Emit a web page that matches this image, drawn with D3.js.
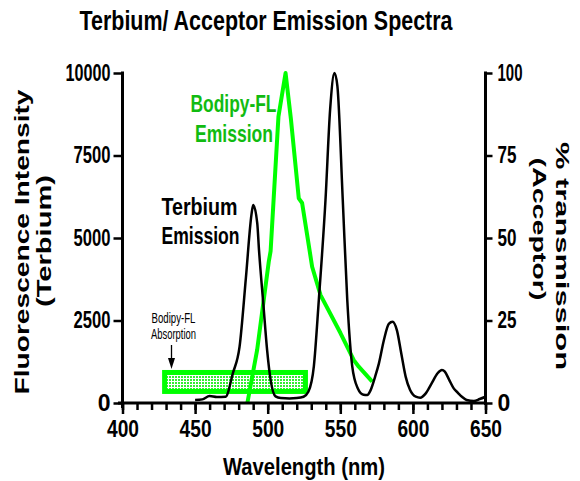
<!DOCTYPE html>
<html><head><meta charset="utf-8">
<script src="https://cdn.jsdelivr.net/npm/d3@7"></script>
<style>body{margin:0;background:#fff}svg{display:block}</style>
</head><body><svg id="c" width="580" height="481"></svg>
<script>
// ---- data ----
const terbiumNm  = [450,455,460,465,471,476,480.6,485,488.8,490,492.8,494,497,499.6,502,505.4,509,515,520,524.7,528,531.8,535.2,539.8,543,546,548,551.7,554.8,558.2,562,566,568.5,571,574,576.6,580,583.4,586,589,592,595,598,602,605,609,613,617,620,622,625,628,631,634,637,642,646,650];
const terbiumVal = [90,110,210,180,190,900,1700,3800,5700,6000,5450,4640,3000,1600,700,200,150,140,150,190,340,1120,3120,6150,8900,10000,9600,6150,3120,1120,450,250,240,400,800,1200,1900,2400,2460,2200,1500,800,400,190,160,300,600,900,1000,950,700,450,310,180,90,60,120,190];
const bodipyNm   = [486,492.7,500.8,502,507.4,512.3,516,521.4,523.7,527,530.6,536.4,550.1,559.3,562.7,572];
const bodipyPct  = [0,16,43,46,86.8,100,86,62,60.6,51.4,41.3,32.7,21.2,13,11,6.5];
const xMajorTicks = [400,450,500,550,600,650];
const xMinorTicks = d3.range(400,651,10);
const yLeftTicks  = [0,2500,5000,7500,10000];
const yRightTicks = [0,25,50,75,100];
const absorptionBand  = [429,526];   // nm
const absorptionLevel = [350,925];   // terbium units

const FONT = "'Liberation Sans', Arial, sans-serif";
const svg = d3.select('#c');

const x  = d3.scaleLinear().domain([400,650]).range([122.5,485.5]);
const yL = d3.scaleLinear().domain([0,10000]).range([403,73]);
const yR = d3.scaleLinear().domain([0,100]).range([403,73]);

// pattern for absorption box
const defs = svg.append('defs');
const pat = defs.append('pattern').attr('id','grid').attr('width',3).attr('height',3)
  .attr('patternUnits','userSpaceOnUse');
pat.append('rect').attr('width',3).attr('height',3).attr('fill','#33ee33');
pat.append('path').attr('d','M0,0.5H3M0.5,0V3').attr('stroke','#ffffff').attr('stroke-width',1);

// title
svg.append('text').attr('x',266).attr('y',30).attr('text-anchor','middle')
  .attr('font-family',FONT).attr('font-weight','bold').attr('font-size',28)
  .attr('textLength',373).attr('lengthAdjust','spacingAndGlyphs')
  .text('Terbium/ Acceptor Emission Spectra');

// absorption box
svg.append('rect')
  .attr('x',x(absorptionBand[0])).attr('width',x(absorptionBand[1])-x(absorptionBand[0]))
  .attr('y',yL(absorptionLevel[1])).attr('height',yL(absorptionLevel[0])-yL(absorptionLevel[1]))
  .attr('fill','url(#grid)').attr('stroke','#00ff00').attr('stroke-width',5);

// arrow + small label
const ax = 171.5;
svg.append('line').attr('x1',ax).attr('x2',ax).attr('y1',345).attr('y2',360)
  .attr('stroke','#000').attr('stroke-width',1.3);
svg.append('path').attr('d',`M${ax-3.5},358L${ax+3.5},358L${ax},369Z`).attr('fill','#000');
svg.append('text').attr('x',173.5).attr('y',323).attr('text-anchor','middle')
  .attr('font-family',FONT).attr('font-size',15)
  .attr('textLength',44).attr('lengthAdjust','spacingAndGlyphs').text('Bodipy-FL');
svg.append('text').attr('x',173.5).attr('y',339).attr('text-anchor','middle')
  .attr('font-family',FONT).attr('font-size',15)
  .attr('textLength',45).attr('lengthAdjust','spacingAndGlyphs').text('Absorption');

// lines
const terb = terbiumNm.map((d,i)=>[d,terbiumVal[i]]);
const bod  = bodipyNm.map((d,i)=>[d,bodipyPct[i]]);
svg.append('path').datum(bod)
  .attr('d', d3.line().x(d=>x(d[0])).y(d=>yR(d[1])).curve(d3.curveLinear))
  .attr('fill','none').attr('stroke','#00ff00').attr('stroke-width',4).attr('stroke-linejoin','round');
svg.append('path').datum(terb)
  .attr('d', d3.line().x(d=>x(d[0])).y(d=>yL(d[1])).curve(d3.curveMonotoneX))
  .attr('fill','none').attr('stroke','#000').attr('stroke-width',2.5).attr('stroke-linejoin','round');

// series labels
function lab(t,xx,yy,w,col,fs){
  svg.append('text').attr('x',xx).attr('y',yy).attr('fill',col)
    .attr('font-family',FONT).attr('font-weight','bold').attr('font-size',fs)
    .attr('textLength',w).attr('lengthAdjust','spacingAndGlyphs').text(t);
}
lab('Bodipy-FL',190.5,112,86,'#11bb11',24);
lab('Emission',195,142,78,'#11bb11',24);
lab('Terbium',161.5,215,76,'#000',24);
lab('Emission',161.5,243.5,78,'#000',24);

// axes
const AX = 3;
const g = svg.append('g');
g.append('line').attr('x1',118).attr('x2',x(650)+1.5).attr('y1',403).attr('y2',403).attr('stroke','#000').attr('stroke-width',AX);
g.append('line').attr('x1',x(400)).attr('x2',x(400)).attr('y1',71.5).attr('y2',408).attr('stroke','#000').attr('stroke-width',AX);
g.append('line').attr('x1',x(650)).attr('x2',x(650)).attr('y1',71.5).attr('y2',405).attr('stroke','#000').attr('stroke-width',AX);

function styleAxis(sel){
  sel.select('.domain').remove();
  sel.selectAll('.tick line').attr('stroke','#000').attr('stroke-width',2.5);
  sel.selectAll('.tick text').attr('font-family',FONT).attr('font-weight','bold')
     .attr('font-size',23).attr('fill','#000');
}
const fitText = (widths)=> function(d){
  const s = d3.select(this); const n = s.text().length;
  if (widths[n]) s.attr('textLength',widths[n]).attr('lengthAdjust','spacingAndGlyphs');
};

const xMinor = svg.append('g').attr('transform','translate(0,403)')
  .call(d3.axisBottom(x).tickValues(xMinorTicks).tickSize(7).tickFormat(''));
styleAxis(xMinor);
const xMajor = svg.append('g').attr('transform','translate(0,403)')
  .call(d3.axisBottom(x).tickValues(xMajorTicks).tickSize(11).tickPadding(7).tickFormat(d3.format('d')));
styleAxis(xMajor);
xMajor.selectAll('.tick text').each(fitText({3:32}));

const yLeft = svg.append('g').attr('transform',`translate(${x(400)},0)`)
  .call(d3.axisLeft(yL).tickValues(yLeftTicks).tickSize(9).tickPadding(3).tickFormat(d3.format('d')));
styleAxis(yLeft);
yLeft.selectAll('.tick text').each(fitText({4:37,5:45}));

const yRight = svg.append('g').attr('transform',`translate(${x(650)},0)`)
  .call(d3.axisRight(yR).tickValues(yRightTicks).tickSize(7).tickPadding(5).tickFormat(d3.format('d')));
styleAxis(yRight);
yRight.selectAll('.tick text').each(fitText({2:19,3:25}));

// axis titles
svg.append('text').attr('x',304).attr('y',475).attr('text-anchor','middle')
  .attr('font-family',FONT).attr('font-weight','bold').attr('font-size',24)
  .attr('textLength',162).attr('lengthAdjust','spacingAndGlyphs').text('Wavelength (nm)');

svg.append('text').attr('transform','translate(29,242) rotate(-90)').attr('text-anchor','middle')
  .attr('font-family',FONT).attr('font-weight','bold').attr('font-size',21)
  .attr('textLength',305).attr('lengthAdjust','spacingAndGlyphs').text('Fluorescence  Intensity');
svg.append('text').attr('transform','translate(51,241) rotate(-90)').attr('text-anchor','middle')
  .attr('font-family',FONT).attr('font-weight','bold').attr('font-size',21)
  .attr('textLength',132).attr('lengthAdjust','spacingAndGlyphs').text('(Terbium)');

svg.append('text').attr('transform','translate(556,256) rotate(90)').attr('text-anchor','middle')
  .attr('font-family',FONT).attr('font-weight','bold').attr('font-size',19)
  .attr('textLength',228).attr('lengthAdjust','spacingAndGlyphs').text('% transmission');
svg.append('text').attr('transform','translate(533,229) rotate(90)').attr('text-anchor','middle')
  .attr('font-family',FONT).attr('font-weight','bold').attr('font-size',19)
  .attr('textLength',143).attr('lengthAdjust','spacingAndGlyphs').text('(Acceptor)');
</script></body></html>
